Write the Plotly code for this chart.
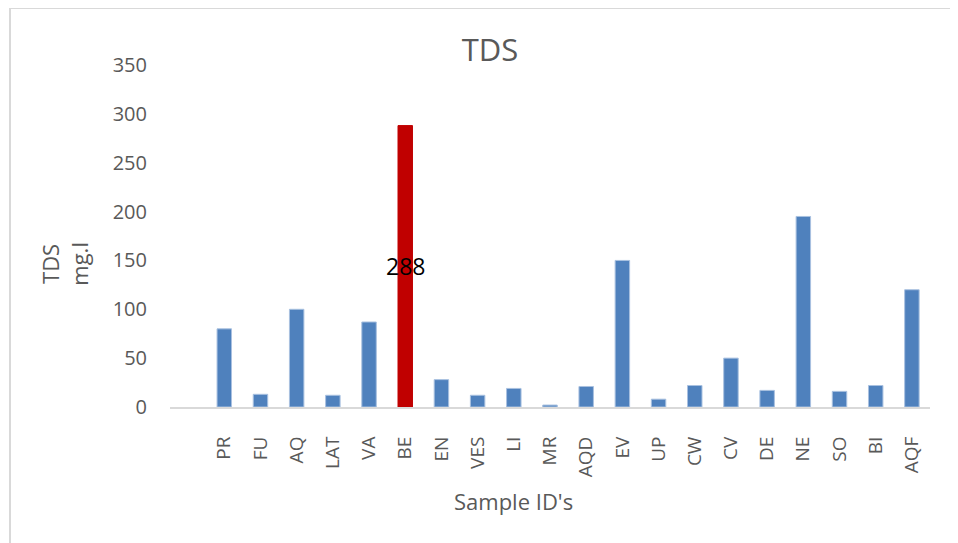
import plotly.graph_objects as go

categories = ["PR", "FU", "AQ", "LAT", "VA", "BE", "EN", "VES", "LI", "MR",
              "AQD", "EV", "UP", "CW", "CV", "DE", "NE", "SO", "BI", "AQF"]
tds_values = [80, 13, 100, 12, 87, 288, 28, 12, 19, 2,
              21, 150, 8, 22, 50, 17, 195, 16, 22, 120]
highlight = "BE"
y_ticks = [0, 50, 100, 150, 200, 250, 300, 350]

BLUE = "#4F81BD"
RED = "#C00000"
GREY = "#595959"
FONT = "Open Sans"

# page body adds an 8px offset; figure is sized/positioned to compensate
OFF = 8
W, H = 958 - OFF, 543 - OFF
PL, PR_, PT, PB = 170, 930, 65, 407.5  # target plot-area edges (page px)
PW, PH = PR_ - PL, PB - PT


def px(xp):
    return (xp - PL) / PW


def py(yp):
    return (PB - yp) / PH


colors = [RED if c == highlight else BLUE for c in categories]
line_colors = [RED if c == highlight else "#a9c1e0" for c in categories]

fig = go.Figure()
fig.add_trace(go.Bar(
    x=categories, y=tds_values,
    marker=dict(color=colors, line=dict(color=line_colors, width=1)),
    width=0.4,
    showlegend=False,
))

hv = tds_values[categories.index(highlight)]
fig.add_annotation(x=highlight, y=hv / 2, text=str(hv), showarrow=False,
                   font=dict(family=FONT, size=23, color="black"))

# Axis titles
fig.add_annotation(xref="paper", yref="paper", x=px(513), y=py(502),
                   xanchor="center", yanchor="middle",
                   text="Sample ID's", showarrow=False,
                   font=dict(family=FONT, size=22, color=GREY))
fig.add_annotation(xref="paper", yref="paper", x=px(65), y=py(264),
                   xanchor="center", yanchor="middle",
                   text="TDS<br>mg.l", showarrow=False, textangle=-90,
                   font=dict(family=FONT, size=22, color=GREY))

# Chart border
fig.add_shape(type="rect", xref="paper", yref="paper",
              x0=px(10), x1=px(975), y0=py(560), y1=py(8),
              line=dict(color="#d9d9d9", width=2), fillcolor="rgba(0,0,0,0)")

fig.update_layout(
    width=W, height=H,
    margin=dict(l=PL - OFF, r=W - (PR_ - OFF), t=PT - OFF, b=H - (PB - OFF)),
    paper_bgcolor="white", plot_bgcolor="white",
    font=dict(family=FONT, color=GREY),
    title=dict(text="TDS", x=(490 - OFF) / W, xanchor="center", xref="container",
               y=1 - (50 - OFF) / H, yanchor="middle", yref="container",
               font=dict(family=FONT, size=31, color=GREY)),
    xaxis=dict(range=[-1.5, 19.5], tickangle=-90, showgrid=False,
               showline=True, linecolor="#d9d9d9", linewidth=2,
               ticks="", ticklabelstandoff=20,
               tickfont=dict(family=FONT, size=19, color=GREY)),
    yaxis=dict(range=[0, 350], tickvals=y_ticks, showgrid=False, zeroline=False,
               showline=False, ticks="", ticklabelstandoff=22,
               tickfont=dict(family=FONT, size=20, color=GREY)),
)

fig.write_html("out.html")
